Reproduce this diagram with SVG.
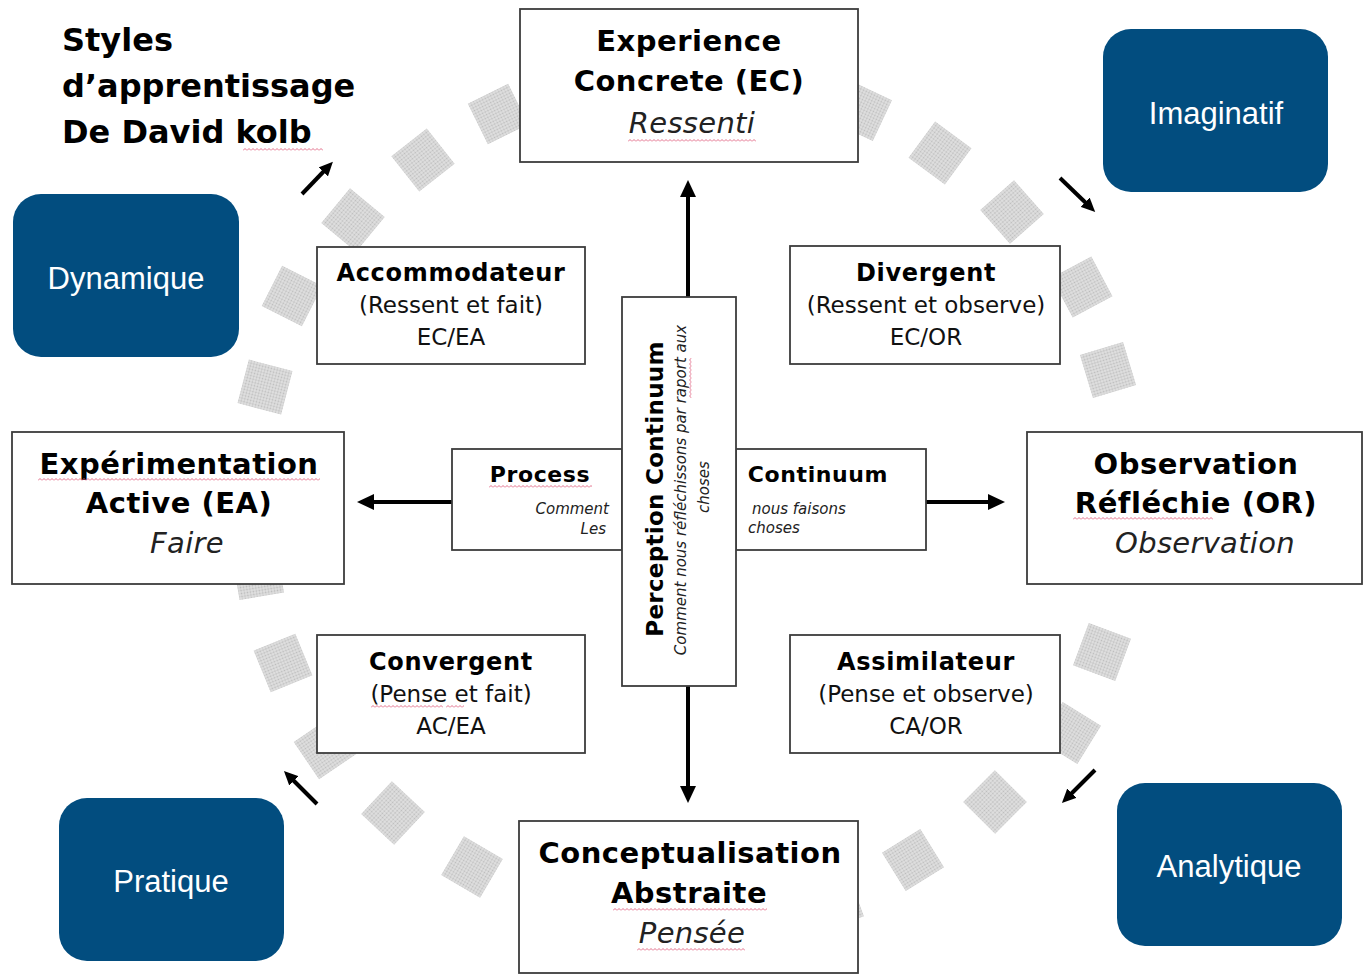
<svg xmlns="http://www.w3.org/2000/svg" width="1364" height="978" viewBox="0 0 1364 978">
<defs>
<pattern id="dots" width="3" height="3" patternUnits="userSpaceOnUse"><rect width="3" height="3" fill="#e0e0e0"/><circle cx="1.5" cy="1.5" r="0.9" fill="#bcbcbc"/></pattern>
<pattern id="wv" width="4" height="3" patternUnits="userSpaceOnUse"><path d="M0,2.5 L2,0.5 L4,2.5" fill="none" stroke="#e0607e" stroke-width="0.9"/></pattern>
<marker id="ah" markerWidth="17" markerHeight="16" refX="5" refY="8" orient="auto" markerUnits="userSpaceOnUse"><path d="M0,0 L17,8 L0,16 Z" fill="#000"/></marker>
<marker id="ahs" markerWidth="14" markerHeight="13" refX="4" refY="6.5" orient="auto" markerUnits="userSpaceOnUse"><path d="M0,0 L14,6.5 L0,13 Z" fill="#000"/></marker>
<style>
.sqr{fill:url(#dots)}
.box{fill:#fff;stroke:#3c3c3c;stroke-width:1.8}
.blue{fill:#024d7f}
.h1{font-family:"DejaVu Sans",Verdana,sans-serif;font-weight:bold;font-size:29px;letter-spacing:0.5px;fill:#000;text-anchor:middle}
.it1{font-family:"DejaVu Sans",Verdana,sans-serif;font-style:italic;font-size:29px;letter-spacing:0.3px;fill:#222;text-anchor:middle}
.h2{font-family:"DejaVu Sans",Verdana,sans-serif;font-weight:bold;font-size:24px;letter-spacing:0.7px;fill:#000;text-anchor:middle}
.n2{font-family:"DejaVu Sans",Verdana,sans-serif;font-size:23px;fill:#111;text-anchor:middle}
.h3{font-family:"DejaVu Sans",Verdana,sans-serif;font-weight:bold;font-size:22px;letter-spacing:0.6px;fill:#000}
.it3{font-family:"DejaVu Sans",Verdana,sans-serif;font-style:italic;font-size:15px;fill:#222}
.title{font-family:"DejaVu Sans",Verdana,sans-serif;font-weight:bold;font-size:32px;fill:#000}
.wl{font-family:"Liberation Sans",Arial,sans-serif;font-size:31px;fill:#fff;text-anchor:middle}
.arr{stroke:#000;stroke-width:4;fill:none;marker-end:url(#ah)}
.arrs{stroke:#000;stroke-width:4;fill:none;marker-end:url(#ahs)}
.wave{fill:url(#wv)}
</style>
</defs>
<rect width="1364" height="978" fill="#fff"/>

<g id="ring">
<rect class="sqr" x="-22.5" y="-22.5" width="45" height="45" transform="translate(498,114) rotate(63.6)"/>
<rect class="sqr" x="-22.5" y="-22.5" width="45" height="45" transform="translate(423,160) rotate(51.8)"/>
<rect class="sqr" x="-22.5" y="-22.5" width="45" height="45" transform="translate(353,220) rotate(39.6)"/>
<rect class="sqr" x="-22.5" y="-22.5" width="45" height="45" transform="translate(292,296) rotate(26.9)"/>
<rect class="sqr" x="-22.5" y="-22.5" width="45" height="45" transform="translate(265,387) rotate(14.6)"/>
<rect class="sqr" x="-22.5" y="-22.5" width="45" height="45" transform="translate(256,478) rotate(2.5)"/>
<rect class="sqr" x="-22.5" y="-22.5" width="45" height="45" transform="translate(258,574) rotate(-9.6)"/>
<rect class="sqr" x="-22.5" y="-22.5" width="45" height="45" transform="translate(283,663) rotate(67.7)"/>
<rect class="sqr" x="-22.5" y="-22.5" width="45" height="45" transform="translate(325,748) rotate(55.8)"/>
<rect class="sqr" x="-22.5" y="-22.5" width="45" height="45" transform="translate(393,813) rotate(43)"/>
<rect class="sqr" x="-22.5" y="-22.5" width="45" height="45" transform="translate(472,867) rotate(30.3)"/>
<rect class="sqr" x="-22.5" y="-22.5" width="45" height="45" transform="translate(555,905) rotate(18)"/>
<rect class="sqr" x="-22.5" y="-22.5" width="45" height="45" transform="translate(835,903) rotate(69.7)"/>
<rect class="sqr" x="-22.5" y="-22.5" width="45" height="45" transform="translate(913,860) rotate(58.2)"/>
<rect class="sqr" x="-22.5" y="-22.5" width="45" height="45" transform="translate(995,802) rotate(44.8)"/>
<rect class="sqr" x="-22.5" y="-22.5" width="45" height="45" transform="translate(1070,733) rotate(31.7)"/>
<rect class="sqr" x="-22.5" y="-22.5" width="45" height="45" transform="translate(1102,652) rotate(20.5)"/>
<rect class="sqr" x="-22.5" y="-22.5" width="45" height="45" transform="translate(1120,556) rotate(7.8)"/>
<rect class="sqr" x="-22.5" y="-22.5" width="45" height="45" transform="translate(1122,462) rotate(-4)"/>
<rect class="sqr" x="-22.5" y="-22.5" width="45" height="45" transform="translate(1108,370) rotate(73.2)"/>
<rect class="sqr" x="-22.5" y="-22.5" width="45" height="45" transform="translate(1082,287) rotate(62)"/>
<rect class="sqr" x="-22.5" y="-22.5" width="45" height="45" transform="translate(1012,212) rotate(48.7)"/>
<rect class="sqr" x="-22.5" y="-22.5" width="45" height="45" transform="translate(940,153) rotate(36.2)"/>
<rect class="sqr" x="-22.5" y="-22.5" width="45" height="45" transform="translate(862,111) rotate(25.2)"/>
</g>

<g id="connectors">
<line class="arr" x1="688" y1="297" x2="688" y2="192"/>
<line class="arr" x1="688" y1="686" x2="688" y2="791"/>
<line class="arr" x1="452" y1="502" x2="369" y2="502"/>
<line class="arr" x1="926" y1="502" x2="993" y2="502"/>
<line class="arrs" x1="302" y1="194" x2="326" y2="169"/>
<line class="arrs" x1="1060" y1="178" x2="1088" y2="205"/>
<line class="arrs" x1="317" y1="804" x2="291" y2="778"/>
<line class="arrs" x1="1095" y1="770" x2="1069" y2="796"/>
</g>

<g id="title">
<text class="title" x="62" y="51">Styles</text>
<text class="title" x="62" y="97">d’apprentissage</text>
<text class="title" x="62" y="143">De David kolb</text>
<g transform="translate(243,148)"><rect class="wave" width="80" height="3"/></g>
</g>

<g id="ec">
<rect class="box" x="520" y="9" width="338" height="153"/>
<text class="h1" x="689" y="51">Experience</text>
<text class="h1" x="689" y="91">Concrete (EC)</text>
<text class="it1" x="692" y="133">Ressenti</text>
<g transform="translate(628,139)"><rect class="wave" width="128" height="3"/></g>
</g>

<g id="ca">
<rect class="box" x="519" y="821" width="339" height="152"/>
<text class="h1" x="690" y="863">Conceptualisation</text>
<text class="h1" x="689" y="903">Abstraite</text>
<text class="it1" x="692" y="943">Pensée</text>
<g transform="translate(613,908)"><rect class="wave" width="154" height="3"/></g>
<g transform="translate(637,948)"><rect class="wave" width="108" height="3"/></g>
</g>

<g id="ea">
<rect class="box" x="12" y="432" width="332" height="152"/>
<text class="h1" x="179" y="474">Expérimentation</text>
<text class="h1" x="179" y="513">Active (EA)</text>
<text class="it1" x="187" y="553">Faire</text>
<g transform="translate(38,478)"><rect class="wave" width="282" height="3"/></g>
</g>

<g id="or">
<rect class="box" x="1027" y="432" width="335" height="152"/>
<text class="h1" x="1196" y="474">Observation</text>
<text class="h1" x="1196" y="513">Réfléchie (OR)</text>
<text class="it1" x="1205" y="553">Observation</text>
<g transform="translate(1073,517)"><rect class="wave" width="140" height="3"/></g>
</g>

<g id="accommodateur">
<rect class="box" x="317" y="247" width="268" height="117"/>
<text class="h2" x="451" y="281">Accommodateur</text>
<text class="n2" x="451" y="313">(Ressent et fait)</text>
<text class="n2" x="451" y="345">EC/EA</text>
</g>

<g id="divergent">
<rect class="box" x="790" y="246" width="270" height="118"/>
<text class="h2" x="926" y="281">Divergent</text>
<text class="n2" x="926" y="313">(Ressent et observe)</text>
<text class="n2" x="926" y="345">EC/OR</text>
</g>

<g id="convergent">
<rect class="box" x="317" y="635" width="268" height="118"/>
<text class="h2" x="451" y="670">Convergent</text>
<text class="n2" x="451" y="702">(Pense et fait)</text>
<text class="n2" x="451" y="734">AC/EA</text>
<g transform="translate(371,705)"><rect class="wave" width="72" height="3"/></g>
<g transform="translate(446,705)"><rect class="wave" width="18" height="3"/></g>
</g>

<g id="assimilateur">
<rect class="box" x="790" y="635" width="270" height="118"/>
<text class="h2" x="926" y="670">Assimilateur</text>
<text class="n2" x="926" y="702">(Pense et observe)</text>
<text class="n2" x="926" y="734">CA/OR</text>
</g>

<g id="process">
<rect class="box" x="452" y="449" width="170" height="101"/>
<text class="h3" x="540" y="482" text-anchor="middle">Process</text>
<g transform="translate(489,485)"><rect class="wave" width="103" height="3"/></g>
<text class="it3" x="609" y="514" text-anchor="end">Comment</text>
<text class="it3" x="606" y="534" text-anchor="end">Les</text>
</g>

<g id="continuum">
<rect class="box" x="736" y="449" width="190" height="101"/>
<text class="h3" x="818" y="482" text-anchor="middle">Continuum</text>
<text class="it3" x="752" y="514">nous faisons</text>
<text class="it3" x="748" y="533">choses</text>
</g>

<g id="perception">
<rect class="box" x="622" y="297" width="114" height="389"/>
<text class="h3" text-anchor="middle" transform="translate(663,489) rotate(-90)" style="font-size:23px;letter-spacing:0.3px">Perception Continuum</text>
<text class="it3" text-anchor="middle" transform="translate(686,490) rotate(-90)">Comment nous réfléchissons par raport aux</text>
<text class="it3" text-anchor="middle" transform="translate(709,487) rotate(-90)">choses</text>
<g transform="translate(689,398) rotate(-90)"><rect class="wave" width="40" height="3"/></g>
</g>

<g id="imaginatif">
<rect class="blue" x="1103" y="29" width="225" height="163" rx="28"/>
<text class="wl" x="1216" y="124">Imaginatif</text>
</g>
<g id="dynamique">
<rect class="blue" x="13" y="194" width="226" height="163" rx="28"/>
<text class="wl" x="126" y="289">Dynamique</text>
</g>
<g id="pratique">
<rect class="blue" x="59" y="798" width="225" height="163" rx="28"/>
<text class="wl" x="171" y="892">Pratique</text>
</g>
<g id="analytique">
<rect class="blue" x="1117" y="783" width="225" height="163" rx="28"/>
<text class="wl" x="1229" y="877">Analytique</text>
</g>
</svg>
